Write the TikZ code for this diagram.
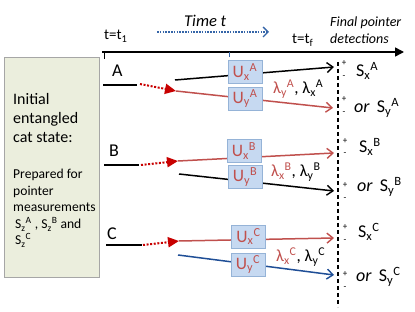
\documentclass[tikz,border=0pt]{standalone}
\usepackage{fontspec}
\setmainfont{Carlito}
\usetikzlibrary{arrows.meta,shadows}
\definecolor{lred}{HTML}{C0504D}
\definecolor{dred}{HTML}{C80000}
\definecolor{lblue}{HTML}{1F4E96}
\definecolor{tblue}{HTML}{3565A8}
\definecolor{boxfill}{HTML}{C6D9F1}
\definecolor{boxdraw}{HTML}{95B3D7}
\definecolor{leftfill}{HTML}{EBEEDD}
\definecolor{leftdraw}{HTML}{A6A6A6}
\newcommand\subsup[2]{\textsubscript{#1}\textsuperscript{#2}}
\begin{document}
\begin{tikzpicture}[x=1pt,y=-1pt,
  txt/.style={anchor=base west,inner sep=0pt},
  big/.style={txt,font=\fontsize{16}{19}\selectfont},
  lbl/.style={txt,font=\fontsize{18}{20}\selectfont},
  mid/.style={txt,font=\fontsize{13.6}{16}\selectfont},
  sml/.style={txt,font=\fontsize{15}{17}\selectfont},
  ital/.style={txt,font=\fontsize{14}{16}\selectfont\itshape},
  pm/.style={anchor=center,inner sep=0pt,font=\fontsize{9}{10}\selectfont},
  ubox/.style={draw=boxdraw,fill=boxfill,line width=0.8pt,minimum width=34pt,minimum height=23pt,inner sep=0pt,text=lred,font=\fontsize{17.5}{17.5}\selectfont},
  barb/.style={-{Straight Barb[length=6pt,width=10pt,line width=1.4pt]}},
  blk/.style={black,line width=1.5pt},
  redl/.style={lred,line width=1.5pt},
  bluel/.style={lblue,line width=1.5pt},
  reddot/.style={dred,line width=2pt,dash pattern=on 2pt off 1.6pt,-{Triangle[length=11pt,width=10pt]}},
  lam/.style={txt,font=\fontsize{17}{19}\selectfont}
]
\useasboundingbox (0,0) rectangle (415,312);

% left box
\node[draw=leftdraw,fill=leftfill,line width=0.8pt,minimum width=95pt,minimum height=220pt,inner sep=0pt,
  drop shadow={opacity=0.25,shadow xshift=1.2pt,shadow yshift=-1.2pt}] (lbox) at (51.5,167) {};
\node[big] (l1) at (13,105) {Initial};
\node[big] (l2) at (13,124) {entangled};
\node[big] (l3) at (13,143) {cat state:};
\node[mid] (p1) at (13,179) {Prepared for};
\node[mid] (p2) at (13,196) {pointer};
\node[mid] (p3) at (13,212) {measurements};
\node[mid] (p4) at (15,229) {S\subsup{z}{A} , S\subsup{z}{B} and};
\node[mid] (p5) at (15,245) {S\subsup{z}{C}};

% time axis
\coordinate (t0) at (102,52);
\coordinate (t1) at (404,52);
\draw[black,line width=1.6pt,-{Triangle[length=9pt,width=9pt]}] (t0) -- (t1);
\coordinate (tk0) at (104,52); \coordinate (tk1) at (104,59);
\draw[black,line width=1pt] (tk0) -- (tk1);
\coordinate (bk0) at (229,52); \coordinate (bk1) at (229,57);
\draw[tblue,line width=0.8pt] (bk0) -- (bk1);
\coordinate (ta0) at (157,32); \coordinate (ta1) at (269,32);
\draw[tblue,line width=1.6pt,dash pattern=on 1.6pt off 1.2pt,-{Straight Barb[length=5pt,width=10pt,line width=1.4pt]}] (ta0) -- (ta1);
\node[sml] (tt1) at (104,40) {t=t\textsubscript{1}};
\node[sml] (ttf) at (292,44) {t=t\textsubscript{f}};
\node[txt,font=\fontsize{16.5}{19}\selectfont\itshape] (time) at (184,27) {Time t};
\node[ital] (fp1) at (330,27) {Final pointer};
\node[ital] (fp2) at (330,44) {detections};

% dashed detector line
\coordinate (d0) at (338,62); \coordinate (d1) at (338,307);
\draw[black,line width=1.5pt,dash pattern=on 4pt off 3pt] (d0) -- (d1);

% ---- Row A
\node[lbl] (A) at (112,77) {A};
\coordinate (a0) at (103,85); \coordinate (a1) at (137,85);
\draw[blk] (a0) -- (a1);
\coordinate (ad0) at (140,84); \coordinate (ad1) at (176,91);
\draw[reddot] (ad0) -- (ad1);
\coordinate (ab0) at (175,80); \coordinate (ab1) at (334,67);
\draw[blk,barb] (ab0) -- (ab1);
\coordinate (ar1) at (333,108);
\draw[redl,barb] (ad1) -- (ar1);
\node[ubox] (uxa) at (245,72) {U\subsup{x}{A}};
\node[ubox] (uya) at (245,98.5) {U\subsup{y}{A}};
\node[lam] (lama) at (273,94) {\textcolor{lred}{λ\subsup{y}{A}}, λ\subsup{x}{A}};
\node[lbl] (sxa) at (356,77) {S\subsup{x}{A}};
\node[lbl] (sya) at (354,113) {\textit{or}\, S\subsup{y}{A}};
\node[pm] (pa1) at (344,63) {+};
\node[pm] (ma1) at (344,77) {-};
\node[pm] (pa2) at (344,99) {+};
\node[pm] (ma2) at (344,113) {-};

% ---- Row B
\node[lbl] (B) at (109,157) {B};
\coordinate (b0) at (104,165); \coordinate (b1) at (139,165);
\draw[blk] (b0) -- (b1);
\coordinate (bd0) at (141,165); \coordinate (bd1) at (178,161);
\draw[reddot] (bd0) -- (bd1);
\coordinate (br1) at (334,153);
\draw[redl,barb] (bd1) -- (br1);
\coordinate (bb0) at (179,174); \coordinate (bb1) at (334,191);
\draw[blk,barb] (bb0) -- (bb1);
\node[ubox] (uxb) at (244,151) {U\subsup{x}{B}};
\node[ubox] (uyb) at (245,177) {U\subsup{y}{B}};
\node[lam] (lamb) at (271,177) {\textcolor{lred}{λ\subsup{x}{B}}, λ\subsup{y}{B}};
\node[lbl] (sxb) at (359,153) {S\subsup{x}{B}};
\node[lbl] (syb) at (357,192) {\textit{or}\, S\subsup{y}{B}};
\node[pm] (pb1) at (345,141) {+};
\node[pm] (mb1) at (345,154) {-};
\node[pm] (pb2) at (345,185) {+};
\node[pm] (mb2) at (345,199) {-};

% ---- Row C
\node[lbl] (C) at (107,240) {C};
\coordinate (c0) at (106,245); \coordinate (c1) at (142,245);
\draw[blk] (c0) -- (c1);
\coordinate (cd0) at (143,245); \coordinate (cd1) at (179,241);
\draw[reddot] (cd0) -- (cd1);
\coordinate (cr1) at (334,238);
\draw[redl,barb] (cd1) -- (cr1);
\coordinate (cb0) at (178,255); \coordinate (cb1) at (334,275);
\draw[bluel,barb] (cb0) -- (cb1);
\node[ubox] (uxc) at (248.5,236.5) {U\subsup{x}{C}};
\node[ubox] (uyc) at (248,264.5) {U\subsup{y}{C}};
\node[lam] (lamc) at (276,262) {\textcolor{lred}{λ\subsup{x}{C}}, λ\subsup{y}{C}};
\node[lbl] (sxc) at (358,238) {S\subsup{x}{C}};
\node[lbl] (syc) at (356,282) {\textit{or}\, S\subsup{y}{C}};
\node[pm] (pc1) at (345,227) {+};
\node[pm] (mc1) at (345,241) {-};
\node[pm] (pc2) at (345,274) {+};
\node[pm] (mc2) at (345,288) {-};
\end{tikzpicture}
\end{document}
